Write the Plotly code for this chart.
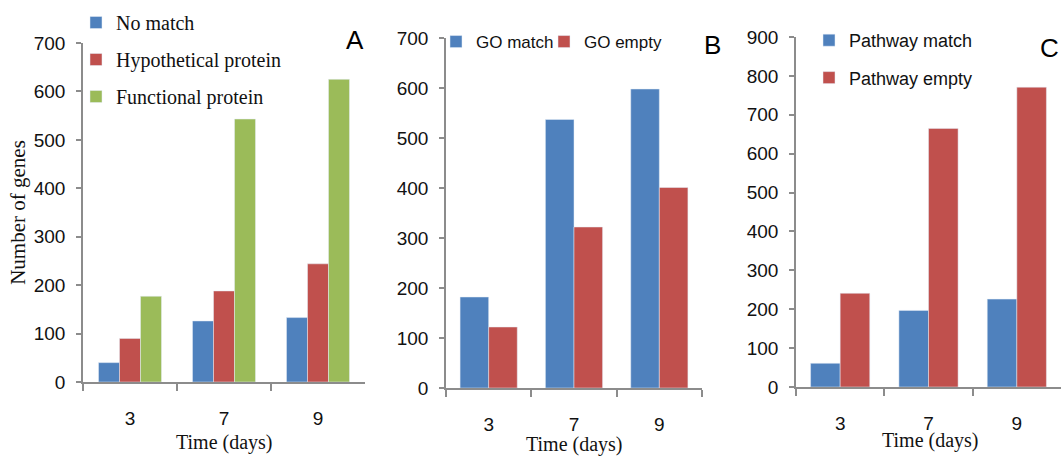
import plotly.graph_objects as go

days = ["3", "7", "9"]
# Panel A
no_match = [40, 126, 133]
hypothetical = [90, 188, 244]
functional = [177, 543, 625]
# Panel B
go_match = [182, 537, 598]
go_empty = [122, 322, 401]
# Panel C
pathway_match = [61, 197, 226]
pathway_empty = [241, 665, 771]

BLUE = "#4F81BD"
RED = "#C0504D"
GREEN = "#9BBB59"
AXIS = "#8C8C8C"
SANS = "Liberation Sans, Arial, sans-serif"
SERIF = "Liberation Serif, Times New Roman, serif"

fig = go.Figure()

fig.add_trace(go.Bar(x=days, y=no_match, name="No match", marker_color=BLUE,
                     xaxis="x", yaxis="y", legend="legend", legendgroup="a1"))
fig.add_trace(go.Bar(x=days, y=hypothetical, name="Hypothetical protein", marker_color=RED,
                     xaxis="x", yaxis="y", legend="legend", legendgroup="a2"))
fig.add_trace(go.Bar(x=days, y=functional, name="Functional protein", marker_color=GREEN,
                     xaxis="x", yaxis="y", legend="legend", legendgroup="a3"))

fig.add_trace(go.Bar(x=days, y=go_match, name="GO match", marker_color=BLUE,
                     xaxis="x2", yaxis="y2", legend="legend2"))
fig.add_trace(go.Bar(x=days, y=go_empty, name="GO empty", marker_color=RED,
                     xaxis="x2", yaxis="y2", legend="legend4"))

fig.add_trace(go.Bar(x=days, y=pathway_match, name="Pathway match", marker_color=BLUE,
                     xaxis="x3", yaxis="y3", legend="legend3", legendgroup="c1"))
fig.add_trace(go.Bar(x=days, y=pathway_empty, name="Pathway empty", marker_color=RED,
                     xaxis="x3", yaxis="y3", legend="legend3", legendgroup="c2"))

W, H = 1061, 456


def xd(a, b):
    return [a / W, min(b / W, 1.0)]


def yd(bottom, top):
    return [1 - bottom / H, 1 - top / H]


def px(x):
    return x / W


def py(y):
    return 1 - y / H


xcommon = dict(
    type="category", showline=True, linecolor=AXIS, linewidth=1.5,
    ticks="outside", tickson="boundaries", ticklen=7, tickcolor=AXIS, tickwidth=1.5,
    tickfont=dict(family=SANS, size=19, color="#111"),
    ticklabelstandoff=18, showgrid=False, zeroline=False,
)
ycommon = dict(
    showline=True, linecolor=AXIS, linewidth=1.5,
    ticks="outside", ticklen=5, tickcolor=AXIS, tickwidth=1.5,
    tickfont=dict(family=SANS, size=19, color="#111"),
    ticklabelstandoff=7, showgrid=False, zeroline=False,
)

title_font = dict(family=SERIF, size=20, color="#111")
label_font = dict(family=SANS, size=26, color="black")
legend_b_font = dict(family=SANS, size=17, color="#111")

fig.update_layout(
    width=W, height=H,
    margin=dict(l=0, r=0, t=0, b=0, autoexpand=False),
    paper_bgcolor="white", plot_bgcolor="white",
    barmode="group",
    bargap=0.33,
    xaxis=dict(xcommon, domain=xd(83, 365), anchor="y"),
    yaxis=dict(ycommon, domain=yd(382, 43), range=[0, 700], dtick=100, anchor="x",
               title=dict(text="Number of genes", font=dict(family=SERIF, size=21, color="#111"),
                          standoff=2)),
    xaxis2=dict(xcommon, domain=xd(446, 702), anchor="y2"),
    yaxis2=dict(ycommon, domain=yd(388, 38), range=[0, 700], dtick=100, anchor="x2"),
    xaxis3=dict(xcommon, domain=xd(796, 1063), anchor="y3"),
    yaxis3=dict(ycommon, domain=yd(387, 37), range=[0, 900], dtick=100, anchor="x3"),
    legend=dict(x=px(76), y=py(3), xanchor="left", yanchor="top",
                font=dict(family=SERIF, size=20, color="#111"),
                tracegroupgap=8, itemwidth=30, bgcolor="rgba(0,0,0,0)"),
    legend2=dict(x=px(436), y=py(24), xanchor="left", yanchor="top",
                 font=legend_b_font, itemwidth=30, bgcolor="rgba(0,0,0,0)"),
    legend4=dict(x=px(544), y=py(24), xanchor="left", yanchor="top",
                 font=legend_b_font, itemwidth=30, bgcolor="rgba(0,0,0,0)"),
    legend3=dict(x=px(809), y=py(22), xanchor="left", yanchor="top",
                 font=dict(family=SANS, size=18, color="#111"),
                 tracegroupgap=11, itemwidth=30, bgcolor="rgba(0,0,0,0)"),
    annotations=[
        dict(text="A", x=px(355), y=py(40), xref="paper", yref="paper", showarrow=False,
             xanchor="center", yanchor="middle", font=label_font),
        dict(text="B", x=px(712), y=py(45), xref="paper", yref="paper", showarrow=False,
             xanchor="center", yanchor="middle", font=label_font),
        dict(text="C", x=px(1049), y=py(48), xref="paper", yref="paper", showarrow=False,
             xanchor="center", yanchor="middle", font=label_font),
        dict(text="Time (days)", x=px(224), y=py(442), xref="paper", yref="paper",
             showarrow=False, xanchor="center", yanchor="middle", font=title_font),
        dict(text="Time (days)", x=px(574), y=py(444), xref="paper", yref="paper",
             showarrow=False, xanchor="center", yanchor="middle", font=title_font),
        dict(text="Time (days)", x=px(930), y=py(440), xref="paper", yref="paper",
             showarrow=False, xanchor="center", yanchor="middle", font=title_font),
    ],
)

fig.write_html(
    "out.html",
    config={"displayModeBar": False},
    post_script="document.body.style.margin='0';document.body.style.overflow='hidden';",
)
